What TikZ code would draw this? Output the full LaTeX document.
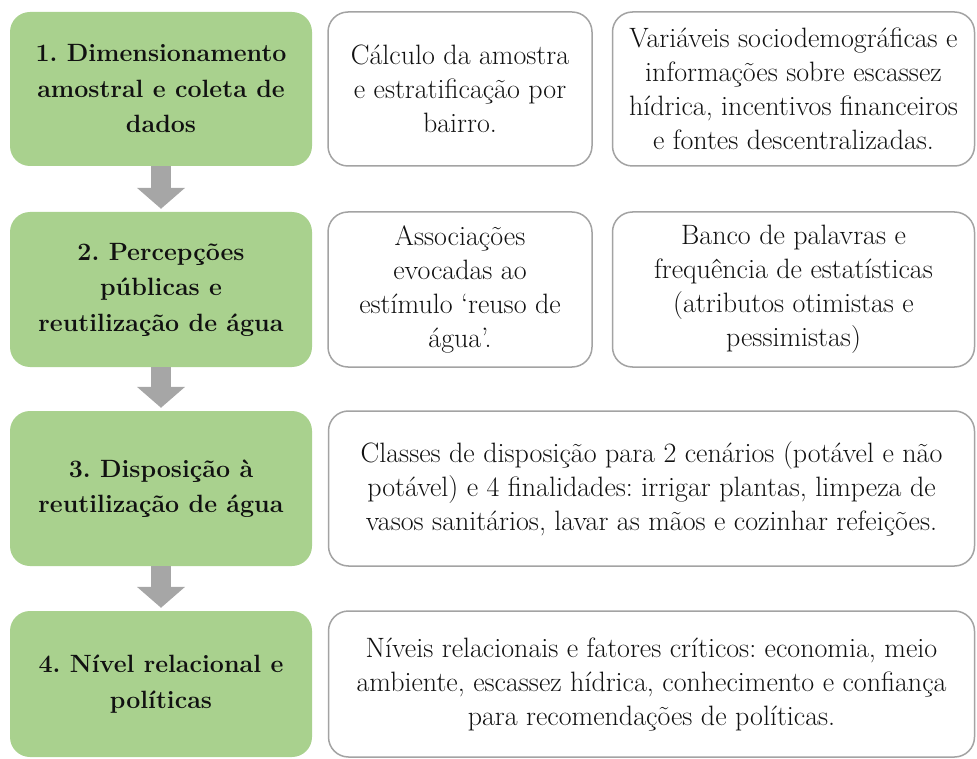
\documentclass[tikz,border=0pt]{standalone}
\usepackage{fontspec}
\usetikzlibrary{arrows.meta}
\definecolor{stepgreen}{HTML}{A9D18E}
\definecolor{arrowgray}{HTML}{A6A6A6}
\definecolor{boxgray}{HTML}{A3A3A3}
\definecolor{txt}{HTML}{111111}
\tikzset{
  stepbox/.style={rectangle, rounded corners=20pt, fill=stepgreen, draw=none, align=center,
    text=txt, font=\fontsize{25}{35.5}\selectfont\bfseries\frenchspacing, inner sep=0pt},
  infobox/.style={rectangle, rounded corners=20pt, fill=white, draw=boxgray, line width=1.5pt,
    align=center, text=txt, font=\fontsize{28}{34}\selectfont\frenchspacing, inner sep=0pt},
  flowarrow/.style={draw=arrowgray, line width=20pt, -{Triangle[length=21pt,width=47pt]}, shorten >=3pt}
}
\begin{document}
\begin{tikzpicture}[x=1pt,y=-1pt]
\useasboundingbox (0,0) rectangle (977,759);
% left green steps
\node[stepbox, minimum width=302pt, minimum height=154pt] (g1) at (161,89) {1. Dimensionamento\\amostral e coleta de\\dados};
\node[stepbox, minimum width=302pt, minimum height=155pt] (g2) at (161,289.5) {2. Percepções\\públicas e\\reutilização de água};
\node[stepbox, minimum width=302pt, minimum height=155pt] (g3) at (161,488.5) {3. Disposição à\\reutilização de água};
\node[stepbox, minimum width=302pt, minimum height=146pt] (g4) at (161,684) {4. Nível relacional e\\políticas};
% info boxes
\node[infobox, minimum width=264pt, minimum height=154pt] (a1) at (460,89) {Cálculo da amostra\\e estratificação por\\bairro.};
\node[infobox, minimum width=362pt, minimum height=154pt] (b1) at (793.5,89) {Variáveis sociodemográficas e\\informações sobre escassez\\hídrica, incentivos financeiros\\e fontes descentralizadas.};
\node[infobox, minimum width=264pt, minimum height=155pt] (a2) at (460,289.5) {Associações\\evocadas ao\\estímulo ‘reuso de\\água’.};
\node[infobox, minimum width=362pt, minimum height=155pt] (b2) at (793.5,289.5) {Banco de palavras e\\frequência de estatísticas\\(atributos otimistas e\\pessimistas)};
\node[infobox, minimum width=646pt, minimum height=155pt] (w3) at (651.5,488.5) {Classes de disposição para 2 cenários (potável e não\\potável) e 4 finalidades: irrigar plantas, limpeza de\\vasos sanitários, lavar as mãos e cozinhar refeições.};
\node[infobox, minimum width=646pt, minimum height=146pt] (w4) at (651.5,684) {Níveis relacionais e fatores críticos: economia, meio\\ambiente, escassez hídrica, conhecimento e confiança\\para recomendações de políticas.};
% arrows
\draw[flowarrow] (g1.south) -- (g2.north);
\draw[flowarrow] (g2.south) -- (g3.north);
\draw[flowarrow] (g3.south) -- (g4.north);
\end{tikzpicture}
\end{document}
